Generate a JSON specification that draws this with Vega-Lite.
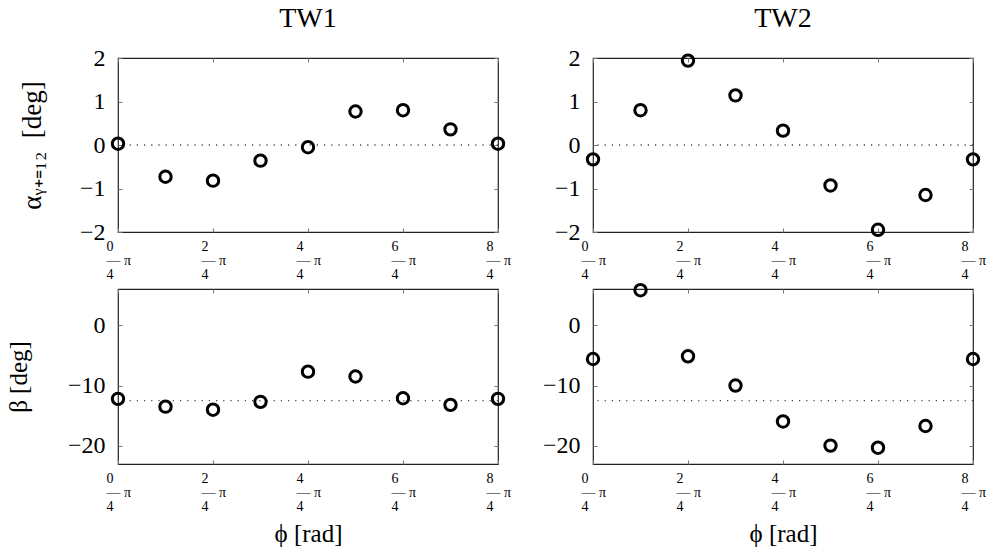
{
  "$schema": "https://vega.github.io/schema/vega-lite/v6.json",
  "background": "white",
  "padding": {"left": 5, "top": 4, "right": 5, "bottom": 2},
  "datasets": {
    "pts": [
      {"tw": "TW1", "q": "a", "k": 0, "v": 0.03},
      {"tw": "TW1", "q": "a", "k": 1, "v": -0.73},
      {"tw": "TW1", "q": "a", "k": 2, "v": -0.82},
      {"tw": "TW1", "q": "a", "k": 3, "v": -0.36},
      {"tw": "TW1", "q": "a", "k": 4, "v": -0.05},
      {"tw": "TW1", "q": "a", "k": 5, "v": 0.77},
      {"tw": "TW1", "q": "a", "k": 6, "v": 0.80},
      {"tw": "TW1", "q": "a", "k": 7, "v": 0.36},
      {"tw": "TW1", "q": "a", "k": 8, "v": 0.03},
      {"tw": "TW2", "q": "a", "k": 0, "v": -0.33},
      {"tw": "TW2", "q": "a", "k": 1, "v": 0.80},
      {"tw": "TW2", "q": "a", "k": 2, "v": 1.94},
      {"tw": "TW2", "q": "a", "k": 3, "v": 1.14},
      {"tw": "TW2", "q": "a", "k": 4, "v": 0.33},
      {"tw": "TW2", "q": "a", "k": 5, "v": -0.93},
      {"tw": "TW2", "q": "a", "k": 6, "v": -1.95},
      {"tw": "TW2", "q": "a", "k": 7, "v": -1.15},
      {"tw": "TW2", "q": "a", "k": 8, "v": -0.33},
      {"tw": "TW1", "q": "b", "k": 0, "v": -12.2},
      {"tw": "TW1", "q": "b", "k": 1, "v": -13.5},
      {"tw": "TW1", "q": "b", "k": 2, "v": -14.0},
      {"tw": "TW1", "q": "b", "k": 3, "v": -12.7},
      {"tw": "TW1", "q": "b", "k": 4, "v": -7.7},
      {"tw": "TW1", "q": "b", "k": 5, "v": -8.5},
      {"tw": "TW1", "q": "b", "k": 6, "v": -12.1},
      {"tw": "TW1", "q": "b", "k": 7, "v": -13.2},
      {"tw": "TW1", "q": "b", "k": 8, "v": -12.2},
      {"tw": "TW2", "q": "b", "k": 0, "v": -5.6},
      {"tw": "TW2", "q": "b", "k": 1, "v": 5.8},
      {"tw": "TW2", "q": "b", "k": 2, "v": -5.15},
      {"tw": "TW2", "q": "b", "k": 3, "v": -10.0},
      {"tw": "TW2", "q": "b", "k": 4, "v": -15.95},
      {"tw": "TW2", "q": "b", "k": 5, "v": -19.95},
      {"tw": "TW2", "q": "b", "k": 6, "v": -20.3},
      {"tw": "TW2", "q": "b", "k": 7, "v": -16.7},
      {"tw": "TW2", "q": "b", "k": 8, "v": -5.6}
    ]
  },
  "data": {"name": "pts"},
  "columns": 2,
  "spacing": {"row": 57, "column": 95},
  "bounds": "flush",
  "concat": [
    {
      "width": 380, "height": 174,
      "title": {"text": "TW1", "frame": "group", "offset": 13},
      "layer": [
        {"data": {"values": [{}]}, "mark": {"type": "rule", "strokeDash": [1.2, 6], "color": "#444", "strokeWidth": 1.3},
         "encoding": {"y": {"datum": 0, "type": "quantitative", "scale": {"domain": [-2, 2], "nice": false}, "axis": null}}},
        {"transform": [{"filter": "datum.tw == 'TW1' && datum.q == 'a'"}],
         "mark": {"type": "point", "shape": "circle", "filled": false, "size": 130, "strokeWidth": 3, "color": "black", "opacity": 1},
         "encoding": {
           "x": {"field": "k", "type": "quantitative", "scale": {"domain": [0, 8], "nice": false, "zero": false}, "axis": {"values": [0, 2, 4, 6, 8], "labelExpr": "['\u2009' + datum.value, '— π', '\u20094']", "title": null}},
           "y": {"field": "v", "type": "quantitative", "scale": {"domain": [-2, 2], "nice": false}, "axis": {"values": [-2, -1, 0, 1, 2], "title": "αᵧ₊₌₁₂\u00a0\u00a0[deg]", "titleFontSize": 27, "titlePadding": 33}}
         }},
        {"transform": [{"filter": "datum.tw == 'TW1' && datum.q == 'a'"}],
         "mark": {"type": "point", "opacity": 0},
         "encoding": {
           "x": {"field": "k", "type": "quantitative", "axis": {"orient": "top", "values": [0, 2, 4, 6, 8], "labels": false, "title": null}},
           "y": {"field": "v", "type": "quantitative", "axis": {"orient": "right", "values": [-2, -1, 0, 1, 2], "labels": false, "title": null}}
         }}
      ],
      "resolve": {"axis": {"x": "independent", "y": "independent"}}
    },
    {
      "width": 380, "height": 174,
      "title": {"text": "TW2", "frame": "group", "offset": 13},
      "layer": [
        {"data": {"values": [{}]}, "mark": {"type": "rule", "strokeDash": [1.2, 6], "color": "#444", "strokeWidth": 1.3},
         "encoding": {"y": {"datum": 0, "type": "quantitative", "scale": {"domain": [-2, 2], "nice": false}, "axis": null}}},
        {"transform": [{"filter": "datum.tw == 'TW2' && datum.q == 'a'"}],
         "mark": {"type": "point", "shape": "circle", "filled": false, "size": 130, "strokeWidth": 3, "color": "black", "opacity": 1},
         "encoding": {
           "x": {"field": "k", "type": "quantitative", "scale": {"domain": [0, 8], "nice": false, "zero": false}, "axis": {"values": [0, 2, 4, 6, 8], "labelExpr": "['\u2009' + datum.value, '— π', '\u20094']", "title": null}},
           "y": {"field": "v", "type": "quantitative", "scale": {"domain": [-2, 2], "nice": false}, "axis": {"values": [-2, -1, 0, 1, 2], "title": null}}
         }},
        {"transform": [{"filter": "datum.tw == 'TW2' && datum.q == 'a'"}],
         "mark": {"type": "point", "opacity": 0},
         "encoding": {
           "x": {"field": "k", "type": "quantitative", "axis": {"orient": "top", "values": [0, 2, 4, 6, 8], "labels": false, "title": null}},
           "y": {"field": "v", "type": "quantitative", "axis": {"orient": "right", "values": [-2, -1, 0, 1, 2], "labels": false, "title": null}}
         }}
      ],
      "resolve": {"axis": {"x": "independent", "y": "independent"}}
    },
    {
      "width": 380, "height": 175,
      "layer": [
        {"data": {"values": [{}]}, "mark": {"type": "rule", "strokeDash": [1.2, 6], "color": "#444", "strokeWidth": 1.3},
         "encoding": {"y": {"datum": -12.5, "type": "quantitative", "scale": {"domain": [-23, 6], "nice": false}, "axis": null}}},
        {"transform": [{"filter": "datum.tw == 'TW1' && datum.q == 'b'"}],
         "mark": {"type": "point", "shape": "circle", "filled": false, "size": 130, "strokeWidth": 3, "color": "black", "opacity": 1},
         "encoding": {
           "x": {"field": "k", "type": "quantitative", "scale": {"domain": [0, 8], "nice": false, "zero": false}, "axis": {"values": [0, 2, 4, 6, 8], "labelExpr": "['\u2009' + datum.value, '— π', '\u20094']", "title": "ϕ [rad]"}},
           "y": {"field": "v", "type": "quantitative", "scale": {"domain": [-23, 6], "nice": false}, "axis": {"values": [-20, -10, 0], "title": "β [deg]", "titlePadding": 36}}
         }},
        {"transform": [{"filter": "datum.tw == 'TW1' && datum.q == 'b'"}],
         "mark": {"type": "point", "opacity": 0},
         "encoding": {
           "x": {"field": "k", "type": "quantitative", "axis": {"orient": "top", "values": [0, 2, 4, 6, 8], "labels": false, "title": null}},
           "y": {"field": "v", "type": "quantitative", "axis": {"orient": "right", "values": [-20, -10, 0], "labels": false, "title": null}}
         }}
      ],
      "resolve": {"axis": {"x": "independent", "y": "independent"}}
    },
    {
      "width": 380, "height": 175,
      "layer": [
        {"data": {"values": [{}]}, "mark": {"type": "rule", "strokeDash": [1.2, 6], "color": "#444", "strokeWidth": 1.3},
         "encoding": {"y": {"datum": -12.5, "type": "quantitative", "scale": {"domain": [-23, 6], "nice": false}, "axis": null}}},
        {"transform": [{"filter": "datum.tw == 'TW2' && datum.q == 'b'"}],
         "mark": {"type": "point", "shape": "circle", "filled": false, "size": 130, "strokeWidth": 3, "color": "black", "opacity": 1},
         "encoding": {
           "x": {"field": "k", "type": "quantitative", "scale": {"domain": [0, 8], "nice": false, "zero": false}, "axis": {"values": [0, 2, 4, 6, 8], "labelExpr": "['\u2009' + datum.value, '— π', '\u20094']", "title": "ϕ [rad]"}},
           "y": {"field": "v", "type": "quantitative", "scale": {"domain": [-23, 6], "nice": false}, "axis": {"values": [-20, -10, 0], "title": null}}
         }},
        {"transform": [{"filter": "datum.tw == 'TW2' && datum.q == 'b'"}],
         "mark": {"type": "point", "opacity": 0},
         "encoding": {
           "x": {"field": "k", "type": "quantitative", "axis": {"orient": "top", "values": [0, 2, 4, 6, 8], "labels": false, "title": null}},
           "y": {"field": "v", "type": "quantitative", "axis": {"orient": "right", "values": [-20, -10, 0], "labels": false, "title": null}}
         }}
      ],
      "resolve": {"axis": {"x": "independent", "y": "independent"}}
    }
  ],
  "config": {
    "font": "Liberation Serif",
    "view": {"stroke": "#222", "strokeWidth": 1.2},
    "axis": {
      "domain": false, "grid": false, "ticks": true, "tickSize": -4, "tickColor": "#777", "tickWidth": 1,
      "labelFont": "Liberation Serif", "labelFontSize": 24, "labelColor": "black", "labelFlush": false, "labelPadding": 17,
      "titleFont": "Liberation Serif", "titleFontSize": 25, "titleFontWeight": "normal", "titleColor": "black", "titlePadding": 20
    },
    "axisX": {"labelFontSize": 14, "labelLineHeight": 14, "labelAlign": "left", "labelOffset": -12, "labelBaseline": "top", "labelPadding": 11, "titleFontSize": 25, "titlePadding": 8},
    "title": {"font": "Liberation Serif", "fontSize": 28, "fontWeight": "normal", "color": "black"}
  }
}
